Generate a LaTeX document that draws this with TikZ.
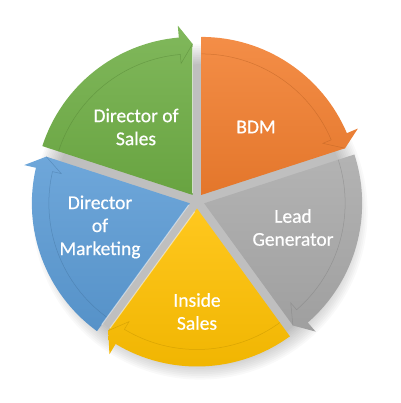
\documentclass[tikz,border=0pt]{standalone}
\usepackage{fontspec}
\setmainfont{Carlito}
\newfontfamily\lblfont[FakeBold=0.6]{Carlito}
\usetikzlibrary{calc}
\definecolor{cgreen}{HTML}{6FAE45}
\definecolor{corange}{HTML}{F27E2E}
\definecolor{cgray}{HTML}{A9A9A9}
\definecolor{cyellow}{HTML}{FFC000}
\definecolor{cblue}{HTML}{5B9BD5}
\def\Rr{158}\def\Ri{141}\def\Rh{170}\def\Rhi{132}\def\Rt{151}\def\dd{7.5}\def\del{5}
\newcommand\drawseg[4]{%
  \pgfmathsetmacro\segmid{(#1+#2)/2}%
  \pgfmathsetmacro\segb{#2+\del}%
  \coordinate (#4) at ($(C)+(\segmid:\dd)$);
  \shade[top color=#3!88!white, bottom color=#3!94!black]
    (#4) -- ($(#4)+(#1:\Rr)$) arc[start angle=#1, end angle=\segb, radius=\Rr]
    -- ($(#4)+(\segb:\Rh)$) -- ($(#4)+(#2:\Rt)$) -- cycle;
  \draw[#3!75!black, line width=0.5pt, opacity=0.5]
    ($(#4)+(#1:\Ri)$) arc[start angle=#1, end angle=\segb, radius=\Ri]
    -- ($(#4)+(\segb:\Rhi)$) -- ($(#4)+(#2:\Rt)$);
}
\tikzset{lbl/.style={text=white, font=\lblfont\fontsize{19.5}{23}\selectfont, align=center}}
\begin{document}
\begin{tikzpicture}[x=1pt,y=1pt]
\useasboundingbox (0,0) rectangle (400,403);
\coordinate (C) at (197,202);
% soft shadow
\foreach \i in {1,...,12}{
  \fill[black, opacity=0.025] ($(C)+(3,-11)$) circle[radius=146+\i*1.8];
}
\drawseg{90}{18}{corange}{o}
\drawseg{18}{-54}{cgray}{g}
\drawseg{-54}{-126}{cyellow}{y}
\drawseg{-126}{-198}{cblue}{b}
\drawseg{162}{90}{cgreen}{gr}
% bevel highlights
\draw[white, opacity=0.6, line width=1pt] ($(gr)+(90:2)$) -- ($(gr)+(90:148)$);
\draw[white, opacity=0.5, line width=1pt] ($(b)+(-126:2)$) -- ($(b)+(-126:150)$);
\draw[white, opacity=0.5, line width=1pt] ($(y)+(-126:4)$) -- ($(y)+(-126:148)$);
\node[lbl] (tgr) at (136,276) {Director of\\Sales};
\node[lbl] (to) at (256,276) {BDM};
\node[lbl] (tg) at (293,175.5) {Lead\\Generator};
\node[lbl] (ty) at (197,91.5) {Inside\\Sales};
\node[lbl] (tb) at (100,176) {Director\\of\\Marketing};
\end{tikzpicture}
\end{document}
